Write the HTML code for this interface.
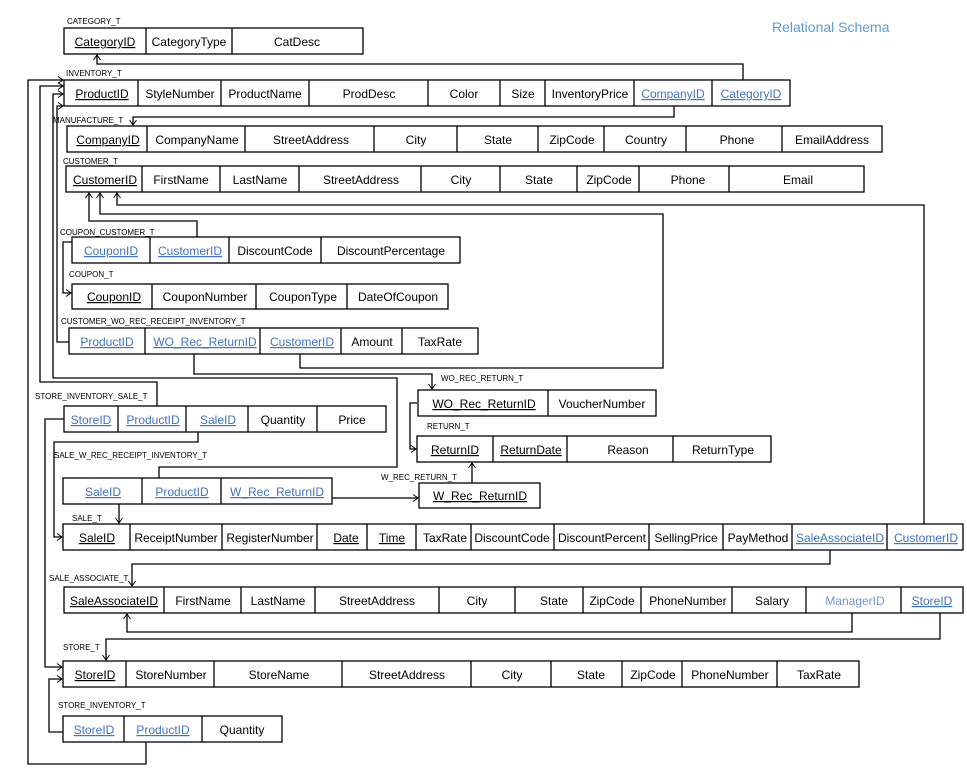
<!DOCTYPE html>
<html><head><meta charset="utf-8"><style>
html,body{margin:0;padding:0;background:#fff}
svg{display:block}
.t{font-family:"Liberation Sans",sans-serif;font-size:12px;text-anchor:middle;fill:#000}
.u{text-decoration:underline}
.b{fill:#3f74c9}
.m{fill:#6f95d6}
.l{font-family:"Liberation Sans",sans-serif;font-size:8px;fill:#000}
.c{fill:none;stroke:#000;stroke-width:1.3}
line,rect{stroke:#000;stroke-width:1.3}
rect{fill:none}
</style></head><body>
<svg width="967" height="774" viewBox="0 0 967 774" xmlns="http://www.w3.org/2000/svg">
<defs><marker id="a" markerWidth="10" markerHeight="10" refX="0" refY="0" viewBox="-7 -5 8 10" orient="auto" markerUnits="userSpaceOnUse"><path d="M-5,-3.5 L0,0 L-5,3.5" fill="none" stroke="#000" stroke-width="1"/></marker></defs>
<text x="772" y="32" style="font-family:'Liberation Sans',sans-serif;font-size:14px;fill:#5b9bd5">Relational Schema</text>

<!-- labels -->
<text class="l" x="67" y="24">CATEGORY_T</text>
<text class="l" x="66" y="76">INVENTORY_T</text>
<text class="l" x="53" y="123">MANUFACTURE_T</text>
<text class="l" x="63" y="164">CUSTOMER_T</text>
<text class="l" x="60" y="235">COUPON_CUSTOMER_T</text>
<text class="l" x="69" y="277">COUPON_T</text>
<text class="l" x="61" y="324">CUSTOMER_WO_REC_RECEIPT_INVENTORY_T</text>
<text class="l" x="441" y="381">WO_REC_RETURN_T</text>
<text class="l" x="427" y="429">RETURN_T</text>
<text class="l" x="35" y="399">STORE_INVENTORY_SALE_T</text>
<text class="l" x="54" y="458">SALE_W_REC_RECEIPT_INVENTORY_T</text>
<text class="l" x="381" y="480">W_REC_RETURN_T</text>
<text class="l" x="72" y="521">SALE_T</text>
<text class="l" x="49" y="581">SALE_ASSOCIATE_T</text>
<text class="l" x="63" y="650">STORE_T</text>
<text class="l" x="58" y="708">STORE_INVENTORY_T</text>

<!-- CATEGORY -->
<rect x="64" y="28" width="299" height="26"/>
<line x1="146" y1="28" x2="146" y2="54"/><line x1="232" y1="28" x2="232" y2="54"/>
<text class="t u" x="105" y="46">CategoryID</text><text class="t" x="189" y="46">CategoryType</text><text class="t" x="297" y="46">CatDesc</text>

<!-- INVENTORY -->
<rect x="64" y="80" width="726" height="26"/>
<line x1="138" y1="80" x2="138" y2="106"/><line x1="221" y1="80" x2="221" y2="106"/><line x1="309" y1="80" x2="309" y2="106"/><line x1="428" y1="80" x2="428" y2="106"/><line x1="500" y1="80" x2="500" y2="106"/><line x1="545" y1="80" x2="545" y2="106"/><line x1="634" y1="80" x2="634" y2="106"/><line x1="712" y1="80" x2="712" y2="106"/>
<text class="t u" x="102" y="98">ProductID</text><text class="t" x="180" y="98">StyleNumber</text><text class="t" x="265" y="98">ProductName</text><text class="t" x="369" y="98">ProdDesc</text><text class="t" x="464" y="98">Color</text><text class="t" x="523" y="98">Size</text><text class="t" x="590" y="98">InventoryPrice</text><text class="t u b" x="673" y="98">CompanyID</text><text class="t u b" x="751" y="98">CategoryID</text>

<!-- MANUFACTURE -->
<rect x="67" y="126" width="815" height="26"/>
<line x1="147" y1="126" x2="147" y2="152"/><line x1="245" y1="126" x2="245" y2="152"/><line x1="374" y1="126" x2="374" y2="152"/><line x1="457" y1="126" x2="457" y2="152"/><line x1="538" y1="126" x2="538" y2="152"/><line x1="604" y1="126" x2="604" y2="152"/><line x1="686" y1="126" x2="686" y2="152"/><line x1="782" y1="126" x2="782" y2="152"/>
<text class="t u" x="108" y="144">CompanyID</text><text class="t" x="197" y="144">CompanyName</text><text class="t" x="311" y="144">StreetAddress</text><text class="t" x="416" y="144">City</text><text class="t" x="498" y="144">State</text><text class="t" x="572" y="144">ZipCode</text><text class="t" x="646" y="144">Country</text><text class="t" x="737" y="144">Phone</text><text class="t" x="832" y="144">EmailAddress</text>

<!-- CUSTOMER -->
<rect x="66" y="166" width="798" height="26"/>
<line x1="142" y1="166" x2="142" y2="192"/><line x1="220" y1="166" x2="220" y2="192"/><line x1="299" y1="166" x2="299" y2="192"/><line x1="421" y1="166" x2="421" y2="192"/><line x1="500" y1="166" x2="500" y2="192"/><line x1="577" y1="166" x2="577" y2="192"/><line x1="639" y1="166" x2="639" y2="192"/><line x1="729" y1="166" x2="729" y2="192"/>
<text class="t u" x="105" y="184">CustomerID</text><text class="t" x="181" y="184">FirstName</text><text class="t" x="260" y="184">LastName</text><text class="t" x="361" y="184">StreetAddress</text><text class="t" x="461" y="184">City</text><text class="t" x="539" y="184">State</text><text class="t" x="609" y="184">ZipCode</text><text class="t" x="688" y="184">Phone</text><text class="t" x="798" y="184">Email</text>

<!-- COUPON_CUSTOMER -->
<rect x="72" y="237" width="388" height="26"/>
<line x1="150" y1="237" x2="150" y2="263"/><line x1="229" y1="237" x2="229" y2="263"/><line x1="321" y1="237" x2="321" y2="263"/>
<text class="t u b" x="111" y="255">CouponID</text><text class="t u b" x="190" y="255">CustomerID</text><text class="t" x="275" y="255">DiscountCode</text><text class="t" x="391" y="255">DiscountPercentage</text>

<!-- COUPON -->
<rect x="72" y="284" width="376" height="25"/>
<line x1="152" y1="284" x2="152" y2="309"/><line x1="256" y1="284" x2="256" y2="309"/><line x1="347" y1="284" x2="347" y2="309"/>
<text class="t u" x="114" y="301">CouponID</text><text class="t" x="205" y="301">CouponNumber</text><text class="t" x="303" y="301">CouponType</text><text class="t" x="398" y="301">DateOfCoupon</text>

<!-- CWRRI -->
<rect x="69" y="328" width="409" height="26"/>
<line x1="145" y1="328" x2="145" y2="354"/><line x1="260" y1="328" x2="260" y2="354"/><line x1="341" y1="328" x2="341" y2="354"/><line x1="402" y1="328" x2="402" y2="354"/>
<text class="t u b" x="107" y="346">ProductID</text><text class="t u b" x="205" y="346">WO_Rec_ReturnID</text><text class="t u b" x="302" y="346">CustomerID</text><text class="t" x="372" y="346">Amount</text><text class="t" x="440" y="346">TaxRate</text>

<!-- WO_REC_RETURN -->
<rect x="418" y="390" width="238" height="26"/>
<line x1="548" y1="390" x2="548" y2="416"/>
<text class="t u" x="484" y="408">WO_Rec_ReturnID</text><text class="t" x="602" y="408">VoucherNumber</text>

<!-- RETURN -->
<rect x="417" y="436" width="354" height="26"/>
<line x1="493" y1="436" x2="493" y2="462"/><line x1="567" y1="436" x2="567" y2="462"/><line x1="673" y1="436" x2="673" y2="462"/>
<text class="t u" x="455" y="454">ReturnID</text><text class="t u" x="531" y="454">ReturnDate</text><text class="t" x="628" y="454">Reason</text><text class="t" x="723" y="454">ReturnType</text>

<!-- SIS -->
<rect x="64" y="406" width="322" height="26"/>
<line x1="118" y1="406" x2="118" y2="432"/><line x1="186" y1="406" x2="186" y2="432"/><line x1="248" y1="406" x2="248" y2="432"/><line x1="317" y1="406" x2="317" y2="432"/>
<text class="t u b" x="91" y="424">StoreID</text><text class="t u b" x="153" y="424">ProductID</text><text class="t u b" x="218" y="424">SaleID</text><text class="t" x="283" y="424">Quantity</text><text class="t" x="352" y="424">Price</text>

<!-- SWRRI -->
<rect x="63" y="478" width="269" height="26"/>
<line x1="142" y1="478" x2="142" y2="504"/><line x1="221" y1="478" x2="221" y2="504"/>
<text class="t u b" x="103" y="496">SaleID</text><text class="t u b" x="182" y="496">ProductID</text><text class="t u b" x="277" y="496">W_Rec_ReturnID</text>

<!-- W_REC_RETURN -->
<rect x="419" y="483" width="121" height="25"/>
<text class="t u" x="480" y="500">W_Rec_ReturnID</text>

<!-- SALE -->
<rect x="63" y="524" width="900" height="26"/>
<line x1="130" y1="524" x2="130" y2="550"/><line x1="222" y1="524" x2="222" y2="550"/><line x1="317" y1="524" x2="317" y2="550"/><line x1="367" y1="524" x2="367" y2="550"/><line x1="416" y1="524" x2="416" y2="550"/><line x1="471" y1="524" x2="471" y2="550"/><line x1="554" y1="524" x2="554" y2="550"/><line x1="649" y1="524" x2="649" y2="550"/><line x1="723" y1="524" x2="723" y2="550"/><line x1="792" y1="524" x2="792" y2="550"/><line x1="887" y1="524" x2="887" y2="550"/>
<g style="font-size:11.5px">
<text class="t u" x="97" y="542">SaleID</text><text class="t" x="176" y="542">ReceiptNumber</text><text class="t" x="270" y="542">RegisterNumber</text><text class="t u" x="346" y="542">Date</text><text class="t u" x="392" y="542">Time</text><text class="t" x="445" y="542">TaxRate</text><text class="t" x="512" y="542">DiscountCode</text><text class="t" x="602" y="542">DiscountPercent</text><text class="t" x="686" y="542">SellingPrice</text><text class="t" x="758" y="542">PayMethod</text><text class="t u b" x="840" y="542">SaleAssociateID</text><text class="t u b" x="926" y="542">CustomerID</text>
</g>

<!-- SALE_ASSOCIATE -->
<rect x="64" y="587" width="899" height="26"/>
<line x1="164" y1="587" x2="164" y2="613"/><line x1="241" y1="587" x2="241" y2="613"/><line x1="315" y1="587" x2="315" y2="613"/><line x1="439" y1="587" x2="439" y2="613"/><line x1="515" y1="587" x2="515" y2="613"/><line x1="583" y1="587" x2="583" y2="613"/><line x1="641" y1="587" x2="641" y2="613"/><line x1="732" y1="587" x2="732" y2="613"/><line x1="806" y1="587" x2="806" y2="613"/><line x1="901" y1="587" x2="901" y2="613"/>
<text class="t u" x="114" y="605">SaleAssociateID</text><text class="t" x="203" y="605">FirstName</text><text class="t" x="278" y="605">LastName</text><text class="t" x="377" y="605">StreetAddress</text><text class="t" x="477" y="605">City</text><text class="t" x="554" y="605">State</text><text class="t" x="612" y="605">ZipCode</text><text class="t" x="688" y="605">PhoneNumber</text><text class="t" x="772" y="605">Salary</text><text class="t m" x="855" y="605">ManagerID</text><text class="t u b" x="932" y="605">StoreID</text>

<!-- STORE -->
<rect x="63" y="661" width="796" height="26"/>
<line x1="126" y1="661" x2="126" y2="687"/><line x1="214" y1="661" x2="214" y2="687"/><line x1="342" y1="661" x2="342" y2="687"/><line x1="471" y1="661" x2="471" y2="687"/><line x1="551" y1="661" x2="551" y2="687"/><line x1="622" y1="661" x2="622" y2="687"/><line x1="682" y1="661" x2="682" y2="687"/><line x1="777" y1="661" x2="777" y2="687"/>
<text class="t u" x="95" y="679">StoreID</text><text class="t" x="171" y="679">StoreNumber</text><text class="t" x="279" y="679">StoreName</text><text class="t" x="407" y="679">StreetAddress</text><text class="t" x="512" y="679">City</text><text class="t" x="591" y="679">State</text><text class="t" x="653" y="679">ZipCode</text><text class="t" x="730" y="679">PhoneNumber</text><text class="t" x="819" y="679">TaxRate</text>

<!-- STORE_INVENTORY -->
<rect x="63" y="716" width="219" height="26"/>
<line x1="124" y1="716" x2="124" y2="742"/><line x1="202" y1="716" x2="202" y2="742"/>
<text class="t u b" x="94" y="734">StoreID</text><text class="t u b" x="163" y="734">ProductID</text><text class="t" x="242" y="734">Quantity</text>

<!-- connectors -->
<polyline class="c" marker-end="url(#a)" points="743,80 743,64 97,64 97,55"/>
<polyline class="c" marker-end="url(#a)" points="674,106 674,117 133,117 133,125"/>
<polyline class="c" marker-end="url(#a)" points="924,524 924,205 117,205 117,193"/>
<polyline class="c" marker-end="url(#a)" points="300,354 300,368 663,368 663,214 100,214 100,193"/>
<polyline class="c" marker-end="url(#a)" points="197,237 197,221 89,221 89,193"/>
<polyline class="c" marker-end="url(#a)" points="72,242 63,242 63,293 71,293"/>
<polyline class="c" marker-end="url(#a)" points="69,342 57,342 57,106 63,106"/>
<polyline class="c" marker-end="url(#a)" points="146,742 146,764 28,764 28,80 63,80"/>
<polyline class="c" marker-end="url(#a)" points="157,406 157,382 40,382 40,86 63,86"/>
<polyline class="c" marker-end="url(#a)" points="159,478 159,467 397,467 397,378 53,378 53,94 63,94"/>
<polyline class="c" marker-end="url(#a)" points="194,354 194,374 432,374 432,389"/>
<polyline class="c" marker-end="url(#a)" points="417,403 410,403 410,449 416,449"/>
<polyline class="c" marker-end="url(#a)" points="472,483 472,463"/>
<polyline class="c" marker-end="url(#a)" points="332,498 418,498"/>
<polyline class="c" marker-end="url(#a)" points="119,504 119,523"/>
<polyline class="c" marker-end="url(#a)" points="198,432 198,442 54,442 54,537 62,537"/>
<polyline class="c" marker-end="url(#a)" points="64,419 45,419 45,667 62,667"/>
<polyline class="c" marker-end="url(#a)" points="830,550 830,564 132,564 132,586"/>
<polyline class="c" marker-end="url(#a)" points="852,613 852,632 127,632 127,614"/>
<polyline class="c" marker-end="url(#a)" points="940,613 940,639 106,639 106,660"/>
<polyline class="c" marker-end="url(#a)" points="63,732 49,732 49,679 62,679"/>
</svg>
</body></html>
